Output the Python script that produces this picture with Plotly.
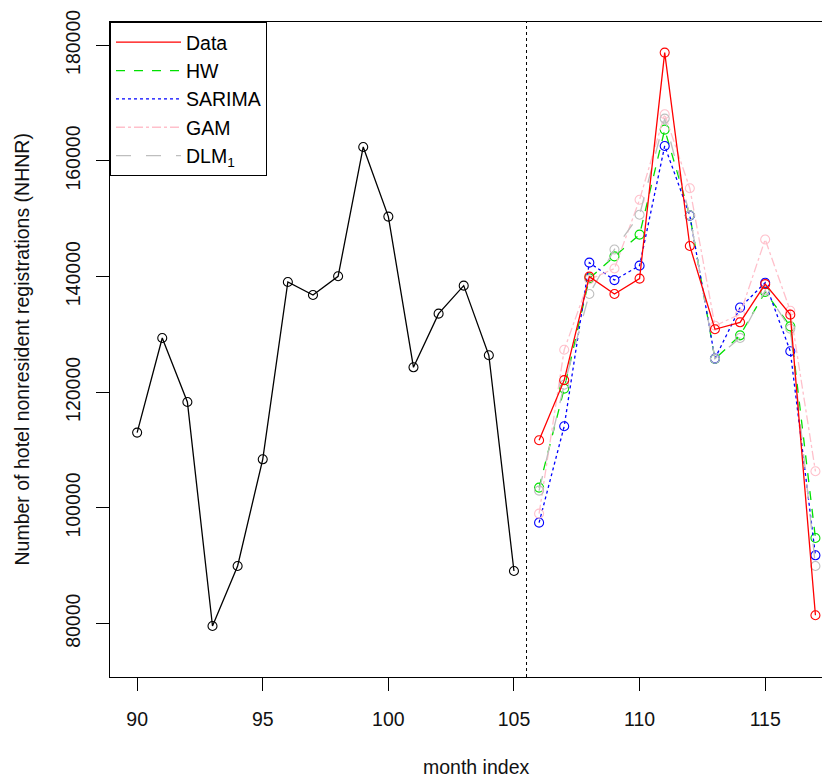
import plotly.graph_objects as go

# ---- data ----
months_hist = list(range(90, 106))
nhnr_hist = [113030, 129390, 118320, 79590, 89960, 108410, 139070, 136820,
             140060, 162420, 150380, 124320, 133600, 138440, 126400, 89100]

months_fc = list(range(106, 118))
data_fc = [111700, 122100, 140000, 137000, 139650, 178740, 145300, 130900,
           132100, 138700, 133430, 81440]
hw_fc = [103520, 120640, 139700, 143500, 147270, 165420, 150600, 125750,
         129850, 137340, 131400, 94800]
sarima_fc = [97460, 114120, 142420, 139400, 141900, 162590, 150550, 125830,
             134650, 138950, 127090, 91810]
gam_fc = [99020, 127350, 139500, 141400, 153300, 168070, 155280, 131500,
          133500, 146430, 134100, 106340]
dlm_fc = [103000, 121300, 137000, 144700, 150700, 167330, 150600, 125800,
          129400, 137600, 131000, 89960]

x_ticks = [90, 95, 100, 105, 110, 115]
y_ticks = [80000, 100000, 120000, 140000, 160000, 180000]
y_tick_labels = ["80000", "100000", "120000", "140000", "160000", "180000"]
split_month = 105.5

series = [
    ("Data", data_fc, "#FF0000", "solid"),
    ("HW", hw_fc, "#00E000", "dash"),
    ("SARIMA", sarima_fc, "#0000FF", "dot"),
    ("GAM", gam_fc, "#FFC0CB", "dashdot"),
    ("DLM<sub>1</sub>", dlm_fc, "#BEBEBE", "longdash"),
]

LW = 1.3
MS = 9

fig = go.Figure()

fig.add_trace(go.Scatter(
    x=months_hist, y=nhnr_hist, mode="lines+markers",
    line=dict(color="black", width=LW),
    marker=dict(symbol="circle-open", size=MS, color="black", line=dict(width=1.1)),
    showlegend=False, hoverinfo="skip"))

# forecasts first, observed data on top
for name, vals, col, dash in series[1:] + series[:1]:
    fig.add_trace(go.Scatter(
        x=months_fc, y=vals, mode="lines+markers",
        line=dict(color=col, width=LW, dash=dash),
        marker=dict(symbol="circle-open", size=MS, color=col, line=dict(width=1.1)),
        showlegend=False))

# legend entries (lines only, like R's legend)
for i, (name, vals, col, dash) in enumerate(series):
    fig.add_trace(go.Scatter(
        x=[None], y=[None], mode="lines", name=name,
        line=dict(color=col, width=LW, dash=dash),
        showlegend=True, legendrank=i + 1))

fig.add_shape(type="line", xref="x", yref="paper",
              x0=split_month, x1=split_month, y0=0, y1=1,
              line=dict(color="black", width=1, dash="dot"))

axis_font = dict(family="Liberation Sans, Arial, sans-serif", size=19.5, color="#111111")

# the page body adds an 8px offset; margins compensate so the plot box
# lands at x 110..830, y 22..677 of the window
fig.update_layout(
    width=830, height=778,
    margin=dict(l=102, r=8, t=14, b=109, autoexpand=False),
    paper_bgcolor="white", plot_bgcolor="white",
    font=axis_font,
    xaxis=dict(range=[88.92, 117.58], tickmode="array", tickvals=x_ticks,
               ticktext=[str(v) for v in x_ticks],
               ticks="outside", ticklen=13, tickwidth=1, tickcolor="black",
               showline=True, linecolor="black", linewidth=1, mirror=True,
               showgrid=False, zeroline=False, ticklabelstandoff=12,
               tickfont=axis_font, automargin=False),
    yaxis=dict(range=[70770, 184030], tickmode="array", tickvals=y_ticks,
               ticktext=y_tick_labels,
               tickangle=-90, ticks="outside", ticklen=13, tickwidth=1,
               tickcolor="black", showline=True, linecolor="black", linewidth=1,
               mirror=False, showgrid=False, zeroline=False,
               ticklabelstandoff=8, tickfont=axis_font, automargin=False),
    legend=dict(x=0, y=1, xanchor="left", yanchor="top",
                bordercolor="black", borderwidth=1, bgcolor="white",
                font=dict(family="Liberation Sans, Arial, sans-serif", size=19.5, color="black"),
                itemwidth=65, tracegroupgap=0),
    annotations=[
        dict(text="month index", xref="x", yref="paper", x=103.5, y=0,
             xanchor="center", yanchor="middle", yshift=-90, showarrow=False,
             font=axis_font),
        dict(text="Number of hotel nonresident registrations (NHNR)",
             xref="paper", yref="paper", x=0, y=0.5, xanchor="center",
             yanchor="middle", xshift=-89, textangle=-90, showarrow=False,
             font=axis_font),
    ],
)

fig.write_html("out.html")
